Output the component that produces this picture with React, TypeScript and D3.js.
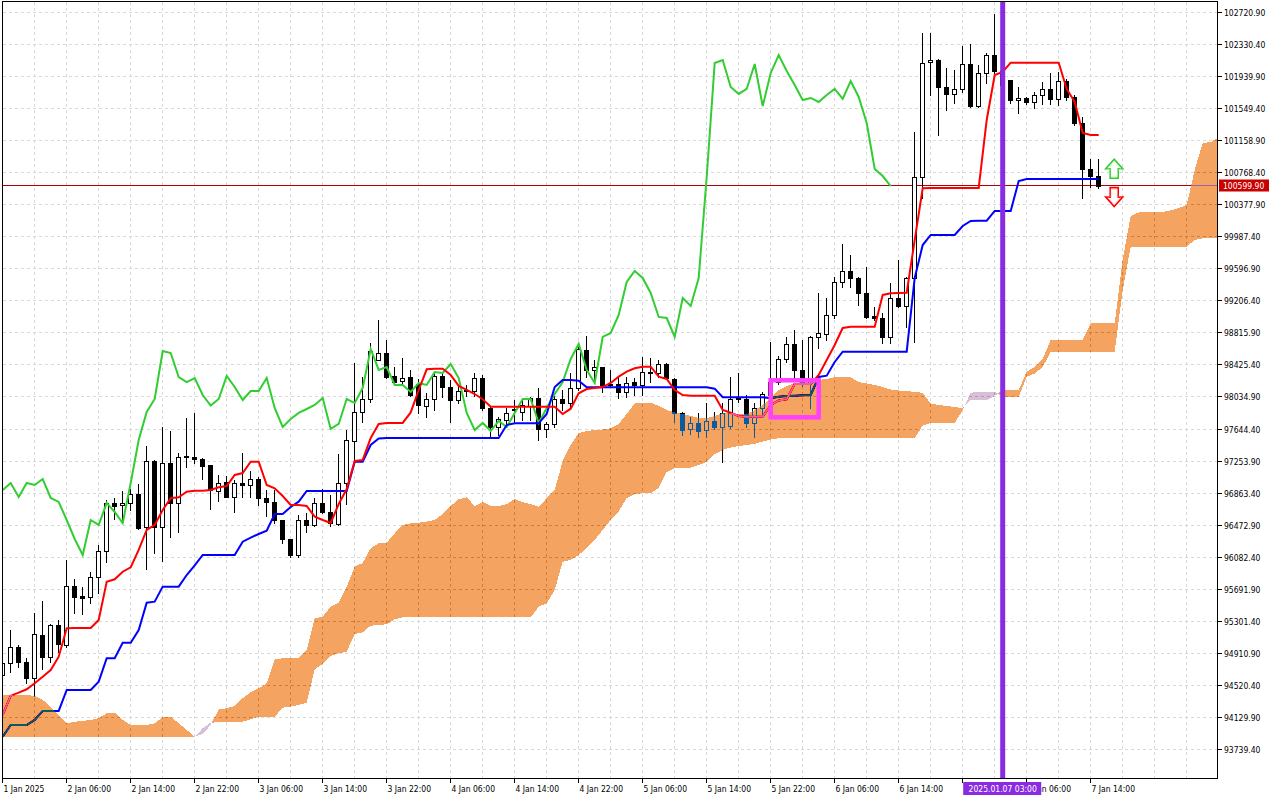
import React from "react";
import * as d3 from "d3";

// ---------------- DATA ----------------
const openPrices = [94640,94787,94982,94799,94604,95128,94860,95250,95006,95725,
95603,95591,95835,96152,96737,96712,96737,96846,96444,97249,
96444,97224,96737,97301,97297,97273,97200,96883,96993,96810,
96980,96956,97029,96798,96749,96529,96298,96103,96529,96469,
96737,96627,96481,96980,97492,97846,98004,98480,98565,98285,
98224,98272,98187,97919,98004,98285,98150,97992,98114,98102,
98260,97895,97663,97748,97870,97846,97919,98016,97639,97700,
98004,97955,98138,98601,98358,98394,98187,98187,98090,98211,
98175,98333,98321,98431,98248,97834,97639,97712,97626,97736,
97663,97675,98016,98004,97712,97895,98053,98211,98492,98675,
98358,98199,98760,98796,99028,99430,99564,99479,99296,99016,
98991,98760,99235,99138,99479,100710,102112,102136,101807,101722,
101783,102087,101575,101978,102197,102002,101892,101648,101673,101624,
101709,101783,101661,101880,101685,101368,100807,100722];

const highPrices = [94884,95189,95006,94848,95396,95542,95262,95311,96042,95810,
95713,95896,96225,96773,96798,96883,96907,96968,97431,97261,
97663,97614,97346,97773,97834,97285,97205,97078,97066,97017,
97346,97127,97054,96895,96895,96535,96303,96590,96615,96798,
96907,96834,97334,97626,98443,98272,98687,98967,98723,98394,
98504,98358,98248,98078,98321,98321,98236,98175,98175,98321,
98297,97907,97785,97895,97992,98016,98029,98138,97724,98041,
98114,98321,98687,98772,98480,98400,98358,98272,98272,98260,
98516,98504,98480,98443,98260,97846,97785,97834,97955,97846,
97955,98272,98321,98053,97955,98090,98699,98528,98760,98845,
98723,98766,99296,99235,99491,99893,99759,99485,99613,99126,
99052,99418,99698,99491,101258,102465,102465,102142,102038,102014,
102307,102331,102075,102221,102697,102063,101898,101807,101685,101746,
101868,101978,101990,101904,101709,101441,100929,100929];

const lowPrices = [94579,94677,94738,94543,94384,94713,94799,94921,94982,95396,
95384,95518,95640,96018,96542,96493,96651,96420,95932,96127,
96030,96322,96383,97175,97224,97029,96664,96761,96805,96627,
96810,96810,96712,96578,96493,96249,96079,96079,96383,96456,
96620,96456,96469,96724,97236,97724,97968,98475,98260,98175,
98175,98041,97834,97785,97870,98029,97724,97955,98041,98041,
97870,97541,97566,97663,97724,97748,97748,97505,97541,97663,
97870,97907,98114,98272,98211,98090,98150,98016,98029,98053,
98053,98211,98272,98248,97724,97566,97578,97541,97541,97639,
97236,97651,97968,97663,97541,97785,98016,98187,98455,98236,
98163,97895,98626,98723,98991,99369,99369,99150,98991,98967,
98687,98687,99126,98882,98699,100454,101709,101222,101527,101612,
101746,101563,101563,101856,101978,101795,101612,101490,101600,101551,
101600,101600,101588,101648,101344,100454,100588,100575];

const closePrices = [94787,94982,94799,94604,95140,94860,95250,95018,95725,95591,
95579,95835,96152,96737,96700,96737,96846,96432,97249,96444,
97224,96737,97297,97310,97273,97188,96895,96980,96810,96980,
96956,97029,96798,96749,96529,96298,96103,96529,96469,96737,
96627,96493,96980,97505,97846,98004,98589,98565,98272,98211,
98260,98053,97925,98004,98285,98150,97992,98102,98102,98260,
97895,97663,97760,97834,97882,97931,98016,97639,97700,98004,
97955,98138,98614,98358,98394,98175,98175,98090,98199,98175,
98333,98321,98431,98260,97834,97626,97712,97614,97736,97663,
97834,98004,98004,97712,97895,98065,98211,98492,98675,98358,
98199,98760,98809,99028,99430,99564,99479,99296,99004,98991,
98760,99235,99138,99479,100710,102099,102136,101807,101722,101783,
102087,101575,101978,102197,102002,101831,101648,101673,101624,101709,
101783,101661,101880,101685,101368,100807,100722,100599.9];

const tenkanSen = [94153,94388,94425,94466,94539,94620,94701,94863,95210,95213,
95213,95213,95311,95777,95807,95899,95953,96164,96408,96469,
96651,96794,96806,96874,96887,96887,96895,96928,96944,97078,
97102,97240,97240,96956,96916,96822,96712,96712,96700,96570,
96529,96493,96724,96907,97249,97261,97529,97700,97712,97712,
97712,97840,98114,98366,98373,98373,98297,98163,98114,98065,
98001,97910,97910,97910,97910,97910,97910,97910,97910,97910,
97821,97886,98074,98126,98138,98150,98199,98276,98337,98378,
98398,98398,98276,98248,98114,98053,98044,98044,98044,98044,
97870,97837,97797,97789,97789,97789,97931,97986,98001,98187,
98187,98187,98297,98480,98662,98870,98885,98885,98885,98885,
99272,99292,99296,99300,99942,100572,100576,100576,100576,100576,
100576,100576,100576,101405,101953,101990,102103,102103,102103,102103,
102103,102103,102103,101783,101624,101246,101222,101222];

const kijunSen = [93888,94031,94031,94031,94092,94202,94202,94202,94458,94458,
94458,94458,94559,94844,94844,95034,95034,95189,95522,95534,
95717,95717,95717,95859,95975,96103,96103,96103,96103,96103,
96265,96314,96359,96399,96603,96603,96688,96753,96883,96883,
96883,96883,96883,96883,97240,97240,97444,97523,97529,97529,
97529,97529,97529,97529,97529,97529,97529,97529,97529,97529,
97529,97529,97529,97687,97708,97708,97708,97708,97821,98150,
98236,98236,98227,98147,98147,98147,98147,98147,98147,98147,
98147,98147,98147,98147,98147,98147,98147,98147,98147,98130,
98025,98025,98025,98025,98025,98025,98013,98032,98041,98044,
98049,98053,98272,98288,98455,98581,98581,98581,98581,98581,
98581,98581,98581,98581,99479,99881,100003,100003,100003,100003,
100113,100174,100178,100178,100296,100296,100296,100661,100686,100686,
100686,100686,100686,100686,100686,100686,100686,100686];

// Senkou spans (already shifted 26 bars forward; index = bar position)
const senkouSpanA = [94397,94397,94397,94397,94384,94336,94254,94153,94052,94071,
94080,94092,94113,94174,94181,94092,94031,94031,94031,94052,
94125,94132,94052,93970,93888,93921,94031,94222,94234,94263,
94356,94430,94478,94539,94832,94844,94844,94844,94945,95331,
95351,95473,95522,95717,95960,96005,96185,96246,96253,96367,
96469,96489,96497,96509,96529,96603,96700,96782,96806,96700,
96749,96700,96700,96724,96785,96745,96724,96692,96794,96895,
97249,97444,97590,97614,97626,97633,97647,97700,97821,97949,
97955,97959,97919,97870,97840,97821,97797,97773,97773,97797,
97834,97834,97821,97821,97870,97931,98016,98114,98163,98199,
98211,98230,98236,98248,98272,98272,98269,98211,98193,98175,
98150,98120,98108,98098,98093,98077,97949,97931,97919,97907,
97891,97992,97992,97992,98041,98114,98114,98114,98337,98394,
98492,98723,98723,98723,98723,98723,98927,98927,98927,98927,
99700,100235,100277,100283,100283,100283,100302,100332,100369,100795,
101124,101136,101190];

const senkouSpanB = [93888,93888,93888,93888,93888,93888,93888,93888,93888,93888,
93888,93888,93888,93888,93888,93888,93888,93888,93888,93888,
93888,93888,93888,93888,93888,93991,94059,94064,94064,94068,
94071,94100,94132,94132,94132,94242,94254,94275,94303,94710,
94774,94872,94905,94924,95140,95161,95241,95250,95258,95319,
95344,95344,95344,95344,95344,95344,95344,95344,95344,95344,
95344,95344,95344,95344,95344,95344,95344,95473,95514,95676,
96021,96042,96103,96188,96286,96408,96529,96633,96798,96846,
96855,96855,96920,97115,97163,97163,97169,97200,97236,97334,
97383,97413,97431,97444,97456,97486,97511,97525,97525,97525,
97525,97525,97525,97525,97525,97525,97525,97525,97525,97525,
97525,97525,97525,97525,97525,97681,97712,97712,97712,97712,
97870,98081,98090,98090,98093,98032,98032,98032,98276,98315,
98394,98581,98581,98581,98581,98581,98581,98581,98581,98581,
99333,99861,99861,99861,99861,99861,99861,99861,99861,99942,
99963,99963,99963];

const chikouShift = 26;

const priceTicks = [102720.9,102330.4,101939.9,101549.4,101158.9,100768.4,100377.9,99987.4,
99596.9,99206.4,98815.9,98425.4,98034.9,97644.4,97253.9,96863.4,96472.9,96082.4,
95691.9,95301.4,94910.9,94520.4,94129.9,93739.4];

const timeTickIndex = [0,8,16,24,32,40,48,56,64,72,80,88,96,104,112,128,136];
const timeTickLabels = ["1 Jan 2025","2 Jan 06:00","2 Jan 14:00","2 Jan 22:00","3 Jan 06:00",
"3 Jan 14:00","3 Jan 22:00","4 Jan 06:00","4 Jan 14:00","4 Jan 22:00","5 Jan 06:00",
"5 Jan 14:00","5 Jan 22:00","6 Jan 06:00","6 Jan 14:00","7 Jan 06:00","7 Jan 14:00"];

const currentPrice = 100599.9;
const markerIndex = 125;
const markerLabel = "2025.01.07 03:00";
const boxStartIndex = 96;
const boxEndIndex = 102;
const boxTopPrice = 98232;
const boxBottomPrice = 97781;
const signalIndex = 139;
const upSignalPrice = 100694;
const downSignalPrice = 100580;

// ---------------- CHART ----------------
const FONT = "'DejaVu Sans Condensed','DejaVu Sans',sans-serif";

type CloudPt = { i: number; a: number; b: number };
function cloudSegments(a: number[], b: number[]) {
  const segs: { bull: boolean; pts: CloudPt[] }[] = [];
  let cur: { bull: boolean; pts: CloudPt[] } | null = null;
  for (let i = 0; i < a.length; i++) {
    const bull = a[i] >= b[i];
    if (!cur) { cur = { bull, pts: [{ i, a: a[i], b: b[i] }] }; continue; }
    if (bull !== cur.bull) {
      const d0 = a[i - 1] - b[i - 1];
      const d1 = a[i] - b[i];
      const t = d0 / (d0 - d1);
      const ci = i - 1 + t;
      const cv = a[i - 1] + t * (a[i] - a[i - 1]);
      cur.pts.push({ i: ci, a: cv, b: cv });
      segs.push(cur);
      cur = { bull, pts: [{ i: ci, a: cv, b: cv }, { i, a: a[i], b: b[i] }] };
    } else {
      cur.pts.push({ i, a: a[i], b: b[i] });
    }
  }
  if (cur) segs.push(cur);
  return segs;
}

export default function App() {
  const x = d3.scaleLinear().domain([0, 152]).range([2.7, 1218.7]);
  const y = d3.scaleLinear().domain([93739.4, 102720.9]).range([748.9, 12]);

  const L = 2.5, T = 1.5, R = 1217.5, B = 778.5;

  const line = d3.line<number>().x((_, i) => x(i)).y((d) => y(d));
  const chikou = closePrices.slice(chikouShift);
  const area = d3.area<CloudPt>().x((p) => x(p.i)).y0((p) => y(p.b)).y1((p) => y(p.a));
  const segs = cloudSegments(senkouSpanA, senkouSpanB);

  const gridX: number[] = [];
  for (let i = 4; i <= 151; i += 4) gridX.push(i);

  const py = Math.round(y(currentPrice)) - 0.5;
  const mx = x(markerIndex);

  const upPath = "M-4,0 L-4,-9.5 L-8.5,-9.5 L0,-19 L8.5,-9.5 L4,-9.5 L4,0 Z";
  const downPath = "M-4,0 L-4,9.5 L-8.5,9.5 L0,19 L8.5,9.5 L4,9.5 L4,0 Z";

  return (
    <svg width={1280} height={800} style={{ position: "absolute", left: 0, top: 0, display: "block" }}
      fontFamily={FONT}>
      <defs>
        <clipPath id="plotClip">
          <rect x={3} y={2} width={R - 3} height={B - 2} />
        </clipPath>
      </defs>
      <rect x={0} y={0} width={1280} height={800} fill="#ffffff" />

      <g clipPath="url(#plotClip)" style={{ isolation: "isolate" }}>
        <rect x={0} y={0} width={1280} height={800} fill="#ffffff" />
        {/* grid */}
        <g stroke="#d9d9d9" strokeWidth={1} strokeDasharray="3,3" shapeRendering="crispEdges">
          {priceTicks.map((p) => (
            <line key={"h" + p} x1={L} x2={R} y1={Math.round(y(p)) + 0.5} y2={Math.round(y(p)) + 0.5} />
          ))}
          {gridX.map((i) => (
            <line key={"v" + i} x1={Math.floor(x(i)) + 0.5} x2={Math.floor(x(i)) + 0.5} y1={T} y2={B} />
          ))}
        </g>

        {/* current price line */}
        <line x1={L} x2={R} y1={py} y2={py} stroke="#b40000" strokeWidth={1} shapeRendering="crispEdges" />

        {/* candles */}
        <g shapeRendering="crispEdges">
          {openPrices.map((o, i) => {
            const c = closePrices[i];
            const cx = Math.floor(x(i)) + 0.5;
            const yt = Math.round(y(Math.max(o, c))) + 0.5;
            const yb = Math.round(y(Math.min(o, c))) + 0.5;
            const bull = c >= o;
            return (
              <g key={i}>
                <line x1={cx} x2={cx} y1={Math.round(y(highPrices[i]))} y2={Math.round(y(lowPrices[i])) + 1} stroke="#000" />
                <rect x={cx - 2} y={yt} width={4} height={Math.max(yb - yt, 0)} fill={bull ? "#ffffff" : "#000000"} stroke="#000" />
              </g>
            );
          })}
        </g>

        {/* ichimoku lines */}
        <path d={line(chikou) || ""} fill="none" stroke="#32cd32" strokeWidth={2} />
        <path d={line(kijunSen) || ""} fill="none" stroke="#0000ff" strokeWidth={2} />
        <path d={line(tenkanSen) || ""} fill="none" stroke="#ff0000" strokeWidth={2} />

        {/* cloud (xor-like blend as in MT5) */}
        <g style={{ mixBlendMode: "difference" }} shapeRendering="crispEdges">
          {segs.map((s, k) => (
            <path key={k} d={area(s.pts) || ""} fill={s.bull ? "#0b5b9f" : "#274027"} />
          ))}
        </g>
      </g>

      <g clipPath="url(#plotClip)">
        {/* objects */}
        <rect x={mx - 2.5} y={T} width={5} height={B - T} fill="#8a2be2" />
        <rect x={x(boxStartIndex)} y={y(boxTopPrice)} width={x(boxEndIndex) - x(boxStartIndex)}
          height={y(boxBottomPrice) - y(boxTopPrice)} fill="none" stroke="#ff40ff" strokeWidth={4.5} />
        <g transform={`translate(${x(signalIndex) - 0.5},${y(upSignalPrice)})`}>
          <path d={upPath} fill="#ffffff" stroke="#33cc33" strokeWidth={1.6} />
          <path d={upPath} fill="none" stroke="#b8f5a8" strokeWidth={0.6} transform="scale(0.8) translate(0,-2)" />
        </g>
        <g transform={`translate(${x(signalIndex) - 0.5},${y(downSignalPrice)})`}>
          <path d={downPath} fill="#ffffff" stroke="#ff0000" strokeWidth={1.6} />
          <path d={downPath} fill="none" stroke="#ffa0a0" strokeWidth={0.6} transform="scale(0.8) translate(0,2)" />
        </g>
      </g>

      {/* frame */}
      <rect x={L} y={T} width={R - L} height={B - T} fill="none" stroke="#000" strokeWidth={1} shapeRendering="crispEdges" />

      {/* right axis */}
      <g fontSize={8.5} fill="#000" style={{ fontStretch: "condensed" }}>
        {priceTicks.map((p) => {
          const ty = Math.round(y(p)) + 0.5;
          return (
            <g key={"t" + p}>
              <line x1={R} x2={R + 4} y1={ty} y2={ty} stroke="#000" shapeRendering="crispEdges" />
              <text x={1224} y={ty} dominantBaseline="central">{p.toFixed(2)}</text>
            </g>
          );
        })}
      </g>
      <rect x={1219} y={py - 6} width={50} height={12} fill="#c80000" />
      <text x={1223} y={py} dominantBaseline="central" fontSize={8.5} fill="#ffffff" style={{ fontStretch: "condensed" }}>
        {currentPrice.toFixed(2)}
      </text>

      {/* bottom axis */}
      <g fontSize={8.5} fill="#000" style={{ fontStretch: "condensed" }}>
        {timeTickIndex.map((idx, k) => {
          const tx = Math.floor(x(idx)) + 0.5;
          return (
            <g key={"x" + idx}>
              <line x1={tx} x2={tx} y1={B} y2={B + 4} stroke="#000" shapeRendering="crispEdges" />
              <text x={tx + 1} y={792}>{timeTickLabels[k]}</text>
            </g>
          );
        })}
      </g>
      <line x1={Math.floor(x(120)) + 0.5} x2={Math.floor(x(120)) + 0.5} y1={B} y2={B + 4} stroke="#000" shapeRendering="crispEdges" />
      <rect x={mx - 39.5} y={782} width={78} height={13} fill="#8a2be2" />
      <text x={mx} y={788.5} textAnchor="middle" dominantBaseline="central" fontSize={8.5} fill="#ffffff"
        style={{ fontStretch: "condensed" }}>
        {markerLabel}
      </text>
    </svg>
  );
}
